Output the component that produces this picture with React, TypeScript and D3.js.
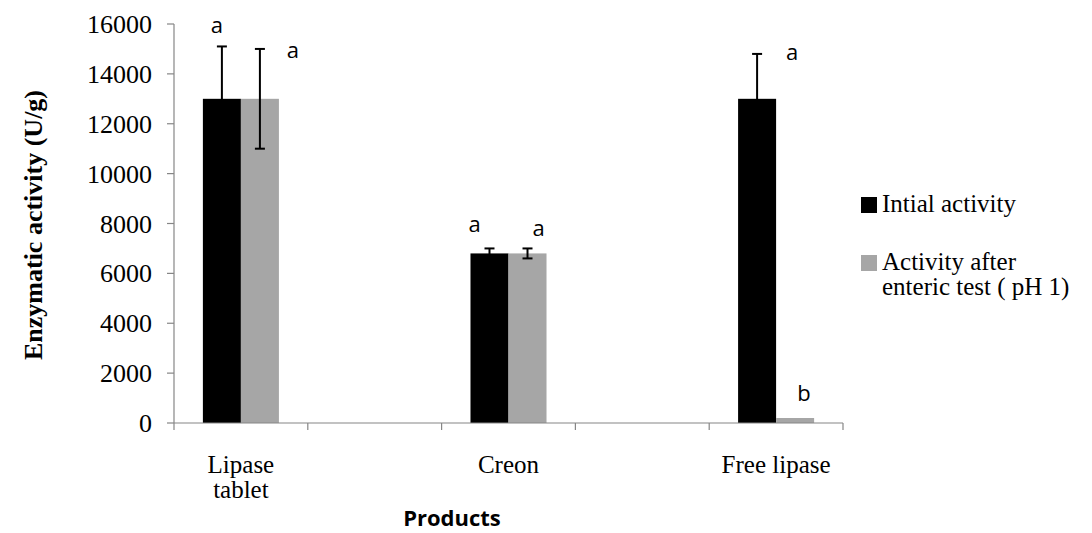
import React from "react";
import * as d3 from "d3";

// categories (empty slots sit between the products, as in the original sheet)
const categories = ["Lipase tablet", "", "Creon", "", "Free lipase"];
const seriesNames = ["Intial activity", "Activity after enteric test ( pH 1)"];
const initialActivity = [13000, null, 6800, null, 13000];
const afterActivity = [13000, null, 6800, null, 200];
const initialError = [2100, null, 200, null, 1800];
const afterError = [2000, null, 200, null, 0];
const initialLetters = ["a", "", "a", "", "a"];
const afterLetters = ["a", "", "a", "", "b"];
const yTicks = [0, 2000, 4000, 6000, 8000, 10000, 12000, 14000, 16000];

const W = 1092;
const H = 533;
const left = 174;
const right = 843;
const top = 24;
const bottom = 423;
const colors = ["#000000", "#a6a6a6"];
const axisColor = "#868686";
const serif = "Liberation Serif, Times New Roman, serif";
const sans = "Open Sans, Liberation Sans, sans-serif";

// hand placed letter offsets from bar centre / error bar top, per series
const letterOffsets = [
  [[-5, -13], null, [-15, -16], null, [35, 6]],
  [[33, 9], null, [11, -12], null, [9, -17]],
];

export default function App() {
  const x = d3
    .scaleBand<number>()
    .domain(categories.map((_, i) => i))
    .range([left, right])
    .paddingInner(0)
    .paddingOuter(0);
  const xs = d3
    .scaleBand<number>()
    .domain([0, 1])
    .range([0, x.bandwidth()])
    .paddingInner(0)
    .paddingOuter(0.76);
  const y = d3.scaleLinear().domain([0, 16000]).range([bottom, top]);

  const series = [
    { values: initialActivity, errors: initialError, letters: initialLetters },
    { values: afterActivity, errors: afterError, letters: afterLetters },
  ];

  const boundaries = categories.map((_, i) => x(i) as number).concat([right]);
  const serifStyle = { fontFamily: serif };

  return (
    <svg
      width={W}
      height={H}
      style={{ position: "absolute", left: 0, top: 0, background: "#fff" }}
    >
      <rect width={W} height={H} fill="#fff" />

      {/* y axis */}
      <line x1={left} x2={left} y1={top} y2={bottom} stroke={axisColor} strokeWidth={1.2} />
      {yTicks.map((t) => (
        <g key={t}>
          <line x1={left - 7} x2={left} y1={y(t)} y2={y(t)} stroke={axisColor} strokeWidth={1.2} />
          <text
            x={left - 22}
            y={y(t)}
            dy="0.35em"
            textAnchor="end"
            style={serifStyle}
            fontSize={26}
            fill="#000"
          >
            {t}
          </text>
        </g>
      ))}

      {/* bars */}
      {series.map((s, si) =>
        s.values.map((v, ci) =>
          v == null ? null : (
            <rect
              key={`b${si}-${ci}`}
              x={(x(ci) as number) + (xs(si) as number)}
              y={y(v)}
              width={xs.bandwidth()}
              height={bottom - y(v)}
              fill={colors[si]}
            />
          )
        )
      )}

      {/* error bars */}
      {series.map((s, si) =>
        s.values.map((v, ci) => {
          const e = s.errors[ci];
          if (v == null || !e) return null;
          const cx = (x(ci) as number) + (xs(si) as number) + xs.bandwidth() / 2;
          return (
            <g key={`e${si}-${ci}`} stroke="#000" strokeWidth={2}>
              <line x1={cx} x2={cx} y1={y(v - e)} y2={y(v + e)} />
              <line x1={cx - 5} x2={cx + 5} y1={y(v + e)} y2={y(v + e)} />
              <line x1={cx - 5} x2={cx + 5} y1={y(v - e)} y2={y(v - e)} />
            </g>
          );
        })
      )}

      {/* significance letters */}
      {series.map((s, si) =>
        s.values.map((v, ci) => {
          const off = letterOffsets[si][ci];
          if (v == null || !off) return null;
          const cx = (x(ci) as number) + (xs(si) as number) + xs.bandwidth() / 2;
          const topVal = v + (s.errors[ci] || 0);
          return (
            <text
              key={`l${si}-${ci}`}
              x={cx + off[0]}
              y={y(topVal) + off[1]}
              textAnchor="middle"
              fontFamily={sans}
              fontSize={22}
              fill="#000"
            >
              {s.letters[ci]}
            </text>
          );
        })
      )}

      {/* x axis */}
      <line x1={left} x2={right} y1={bottom} y2={bottom} stroke={axisColor} strokeWidth={1.2} />
      {boundaries.map((b, i) => (
        <line key={i} x1={b} x2={b} y1={bottom} y2={bottom + 7} stroke={axisColor} strokeWidth={1.2} />
      ))}
      {categories.map((c, i) => {
        if (c === "") return null;
        const cx = (x(i) as number) + x.bandwidth() / 2;
        const lines = c === "Lipase tablet" ? ["Lipase", "tablet"] : [c];
        return (
          <text key={c} textAnchor="middle" style={serifStyle} fontSize={25} fill="#000">
            {lines.map((ln, k) => (
              <tspan key={k} x={cx} y={473 + k * 25}>
                {ln}
              </tspan>
            ))}
          </text>
        );
      })}

      {/* axis titles */}
      <text
        x={452}
        y={526}
        textAnchor="middle"
        fontFamily={sans}
        fontWeight="bold"
        fontSize={22}
        fill="#000"
      >
        Products
      </text>
      <text
        transform="translate(42,225) rotate(-90)"
        textAnchor="middle"
        style={serifStyle}
        fontWeight="bold"
        fontSize={26}
        fill="#000"
      >
        Enzymatic activity (U/g)
      </text>

      {/* legend */}
      <rect x={861} y={197} width={16} height={16} fill={colors[0]} />
      <text x={882} y={212} style={serifStyle} fontSize={25} fill="#000">
        {seriesNames[0]}
      </text>
      <rect x={861} y={255} width={16} height={16} fill={colors[1]} />
      <text style={serifStyle} fontSize={25} fill="#000">
        <tspan x={882} y={270}>Activity after</tspan>
        <tspan x={882} y={295}>
          enteric test ( pH 1)
        </tspan>
      </text>
    </svg>
  );
}
